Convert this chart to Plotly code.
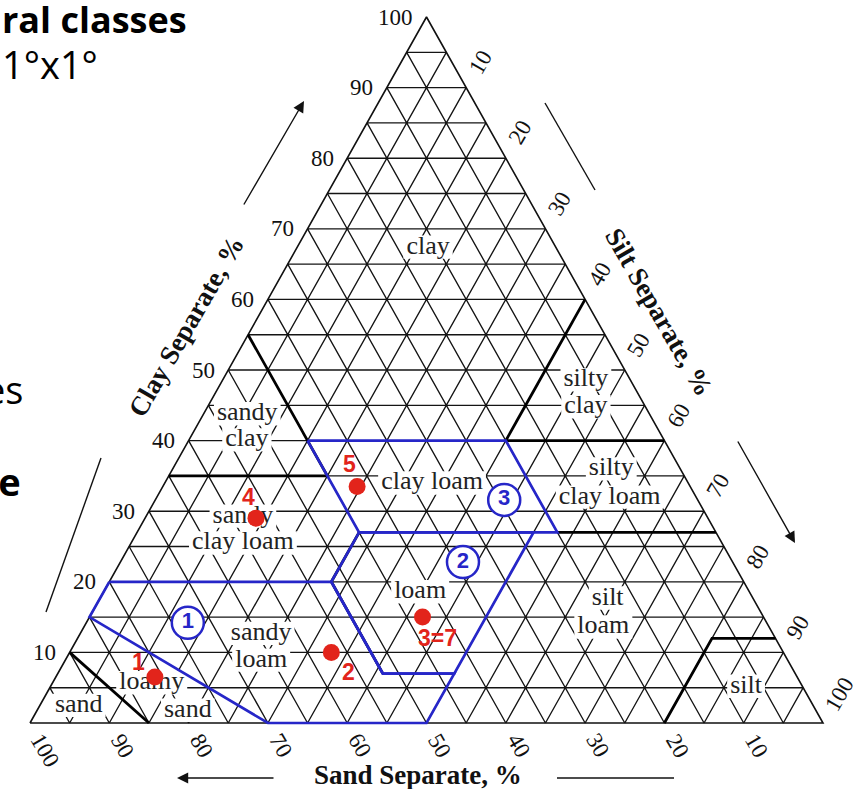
import plotly.graph_objects as go

# ---------------- data (percent: sand, silt, clay) ----------------
ticks = [10, 20, 30, 40, 50, 60, 70, 80, 90, 100]
tick_labels = [str(t) for t in ticks]
grid_step = 5

# soil samples
sample_ids = ["1", "2", "3=7", "4", "5"]
sample_sand = [81.0, 57.0, 43.0, 57.0, 42.0]
sample_silt = [12.5, 33.0, 42.0, 14.0, 24.5]
sample_clay = [6.5, 10.0, 15.0, 29.0, 33.5]
sample_label_shift = [(-16, 15), (17, -20), (15, -21), (-8, 21), (-8, 22)]

# USDA class boundaries (black)
boundary_lines = [
    [(45, 0, 55), (45, 20, 35)],
    [(65, 0, 35), (45, 20, 35)],
    [(0, 40, 60), (20, 40, 40)],
    [(20, 40, 40), (0, 60, 40)],
    [(20, 53, 27), (0, 73, 27)],
    [(20, 80, 0), (8, 80, 12), (0, 88, 12)],
    [(90, 0, 10), (85, 15, 0)],
    [(45, 28, 27), (52, 28, 20), (52, 41, 7)],
]

# highlighted groups (blue)
sandy_loam = [(80, 0, 20), (52, 28, 20), (52, 41, 7), (43, 50, 7), (50, 50, 0),
              (70, 30, 0), (85, 0, 15), (80, 0, 20)]
loam = [(45, 28, 27), (52, 28, 20), (52, 41, 7), (43, 50, 7), (23, 50, 27), (45, 28, 27)]
clay_loam = [(45, 15, 40), (20, 40, 40), (20, 53, 27), (45, 28, 27), (45, 15, 40)]

group_ids = ["1", "2", "3"]
group_sand = [73.0, 34.0, 24.4]
group_silt = [12.8, 43.2, 44.0]
group_clay = [14.2, 22.8, 31.6]

# texture class names
class_words = ["clay", "silty", "clay", "sandy", "clay", "clay loam", "silty", "clay loam",
               "sandy", "clay loam", "loam", "silt", "loam", "sandy", "loam", "loamy",
               "sand", "sand", "silt"]
class_sand = [16.1, 5.6, 7.5, 50.7, 52.6, 32.3, 8.7, 10.9, 58.5, 60.4, 41.5, 18.3, 20.9,
              64.5, 66.4, 81.8, 79.2, 92.6, 7.1]
class_clay = [67.4, 48.6, 44.8, 43.8, 40.1, 34.0, 36.0, 32.0, 29.3, 25.5, 18.6, 17.7, 13.6,
              12.7, 8.9, 5.7, 1.8, 2.5, 5.2]
class_silt = [round(100 - s - c, 1) for s, c in zip(class_sand, class_clay)]

# ---------------- geometry helpers ----------------
W, H = 858, 789
X_RANGE = [-3.783, 104.414]
Y_RANGE = [-9.348, 102.408]


def txy(sand, silt, clay):
    tot = sand + silt + clay
    return (silt + clay / 2.0) * 100.0 / tot, clay * 100.0 / tot


def poly_xy(pts):
    xs, ys = [], []
    for p in pts:
        x, y = txy(*p)
        xs.append(x)
        ys.append(y)
    return xs, ys


def px(x, y):
    return x / W, 1 - y / H


SERIF = "Liberation Serif, Times New Roman, serif"
SANS = "Liberation Sans, Arial, sans-serif"
BLUE = "#2626c8"
RED = "#e2241b"

fig = go.Figure()

# ---------------- grid (5 % mesh) ----------------
segs = []
for k in range(grid_step, 100, grid_step):
    segs.append([(100 - k, 0, k), (0, 100 - k, k)])        # constant clay
    segs.append([(k, 0, 100 - k), (k, 100 - k, 0)])        # constant sand
    segs.append([(0, k, 100 - k), (100 - k, k, 0)])        # constant silt
path = ""
for a, b in segs:
    xa, ya = txy(*a)
    xb, yb = txy(*b)
    path += f"M{xa:.3f},{ya:.3f}L{xb:.3f},{yb:.3f}"
shapes = [dict(type="path", path=path, xref="x", yref="y", layer="below",
               line=dict(color="#141414", width=1.35))]

# white boxes behind class names
CW = {"a": .444, "c": .444, "d": .5, "i": .278, "l": .278, "m": .778, "n": .5,
      "o": .5, "s": .389, "t": .278, "y": .5, " ": .25}
FS_CLASS = 26
for w, s, si, c in zip(class_words, class_sand, class_silt, class_clay):
    x, y = txy(s, si, c)
    wpx = sum(CW.get(ch, .5) for ch in w) * FS_CLASS + 6
    hpx = 0.9 * FS_CLASS
    shapes.append(dict(type="rect", xref="x", yref="y", layer="below",
                       xsizemode="pixel", ysizemode="pixel", xanchor=x, yanchor=y,
                       x0=-wpx / 2, x1=wpx / 2, y0=-hpx / 2, y1=hpx / 2,
                       fillcolor="white", line=dict(width=0)))

# ---------------- outline and boundaries ----------------
ox, oy = poly_xy([(100, 0, 0), (0, 100, 0), (0, 0, 100), (100, 0, 0)])
fig.add_trace(go.Scatter(x=ox, y=oy, mode="lines", line=dict(color="#111", width=1.6),
                         hoverinfo="skip"))

bx, by = [], []
for line in boundary_lines:
    xs, ys = poly_xy(line)
    bx += xs + [None]
    by += ys + [None]
fig.add_trace(go.Scatter(x=bx, y=by, mode="lines", line=dict(color="#000", width=2.8),
                         hoverinfo="skip"))

for poly in (sandy_loam, loam, clay_loam):
    xs, ys = poly_xy(poly)
    fig.add_trace(go.Scatter(x=xs, y=ys, mode="lines",
                             line=dict(color=BLUE, width=2.7), hoverinfo="skip"))

# ---------------- class names ----------------
cx, cy = [], []
for s, si, c in zip(class_sand, class_silt, class_clay):
    x, y = txy(s, si, c)
    cx.append(x)
    cy.append(y)
fig.add_trace(go.Scatter(x=cx, y=cy, mode="text", text=class_words,
                         textposition="middle center",
                         textfont=dict(family=SERIF, size=FS_CLASS, color="#222"),
                         hoverinfo="skip"))

# ---------------- samples ----------------
sx, sy = [], []
for s, si, c in zip(sample_sand, sample_silt, sample_clay):
    x, y = txy(s, si, c)
    sx.append(x)
    sy.append(y)
fig.add_trace(go.Scatter(x=sx, y=sy, mode="markers",
                         marker=dict(size=17, color=RED), hoverinfo="skip"))

# group markers
gx, gy = [], []
for s, si, c in zip(group_sand, group_silt, group_clay):
    x, y = txy(s, si, c)
    gx.append(x)
    gy.append(y)
fig.add_trace(go.Scatter(x=gx, y=gy, mode="markers+text", text=group_ids,
                         textposition="middle center",
                         textfont=dict(family=SANS, size=22, color=BLUE, weight="bold"),
                         marker=dict(size=32, color="white", line=dict(color=BLUE, width=2.5)),
                         hoverinfo="skip"))

annotations = []

# sample labels
for lab, x, y, (dx, dy) in zip(sample_ids, sx, sy, sample_label_shift):
    annotations.append(dict(x=x, y=y, xref="x", yref="y", text=lab, showarrow=False,
                            xshift=dx, yshift=dy,
                            font=dict(family=SANS, size=23, color=RED, weight="bold")))

# ---------------- axis tick labels ----------------
ex, ey = 0.4897, 0.8719
for t, lab in zip(ticks, tick_labels):
    # clay (left edge)
    x, y = txy(100 - t, 0, t)
    d = 25 if len(lab) < 3 else 31
    annotations.append(dict(x=x, y=y, xref="x", yref="y", text=lab, showarrow=False,
                            xshift=-d, yshift=0, xanchor="center", yanchor="middle",
                            font=dict(family=SERIF, size=23, color="#111")))
    # silt (right edge)
    x, y = txy(0, t, 100 - t)
    d = 29 if len(lab) < 3 else 33
    annotations.append(dict(x=x, y=y, xref="x", yref="y", text=lab, showarrow=False,
                            xshift=d * ex, yshift=d * ey, textangle=-60,
                            xanchor="center", yanchor="middle",
                            font=dict(family=SERIF, size=23, color="#111")))
    # sand (bottom edge)
    x, y = txy(t, 100 - t, 0)
    d = 26 if len(lab) < 3 else 31
    annotations.append(dict(x=x, y=y, xref="x", yref="y", text=lab, showarrow=False,
                            xshift=d * ex, yshift=-d * ey, textangle=60,
                            xanchor="center", yanchor="middle",
                            font=dict(family=SERIF, size=23, color="#111")))

# axis titles
title_font = dict(family=SERIF, size=27, color="#111", weight="bold")
for text, (x, y), ang in [("Clay Separate, %", (186, 327), -60),
                          ("Silt Separate, %", (659, 312), 60),
                          ("Sand Separate, %", (418, 775), 0)]:
    xp, yp = px(x, y)
    annotations.append(dict(x=xp, y=yp, xref="paper", yref="paper", text=text,
                            showarrow=False, textangle=ang, xanchor="center",
                            yanchor="middle", font=title_font))

# direction arrows
for (hx, hy), (tx, ty) in [((304, 101), (243, 206)),
                           ((795, 543), (737, 440)),
                           ((177, 778), (275, 778))]:
    xp, yp = px(hx, hy)
    annotations.append(dict(x=xp, y=yp, xref="paper", yref="paper", text="",
                            showarrow=True, ax=tx - hx, ay=ty - hy, arrowhead=2,
                            arrowsize=1.6, arrowwidth=1.4, arrowcolor="#111", standoff=0))
for (x0, y0), (x1, y1) in [((46, 612), (101, 458)),
                           ((545, 103), (595, 190)),
                           ((557, 778), (674, 778))]:
    a0, b0 = px(x0, y0)
    a1, b1 = px(x1, y1)
    shapes.append(dict(type="line", xref="paper", yref="paper", x0=a0, y0=b0, x1=a1, y1=b1,
                       line=dict(color="#111", width=1.4)))

# slide text on the left
SLIDE = "Open Sans, Noto Sans, sans-serif"
for text, (x, y), size, bold, anchor in [("ral classes", (0, 19), 36, True, "left"),
                                          ("1°x1°", (0, 64), 38, False, "left"),
                                          ("es", (25, 389), 38, False, "right"),
                                          ("re", (23, 481), 38, True, "right")]:
    xp, yp = px(x, y)
    annotations.append(dict(x=xp, y=yp, xref="paper", yref="paper", text=text,
                            showarrow=False, xanchor=anchor, yanchor="middle",
                            font=dict(family=SLIDE, size=size, color="#000",
                                      weight="bold" if bold else "normal")))

fig.update_layout(
    width=W, height=H, margin=dict(l=0, r=0, t=0, b=0),
    paper_bgcolor="white", plot_bgcolor="white", showlegend=False,
    xaxis=dict(range=X_RANGE, visible=False, fixedrange=True),
    yaxis=dict(range=Y_RANGE, visible=False, fixedrange=True),
    shapes=shapes, annotations=annotations,
)

fig.write_html("out.html")
